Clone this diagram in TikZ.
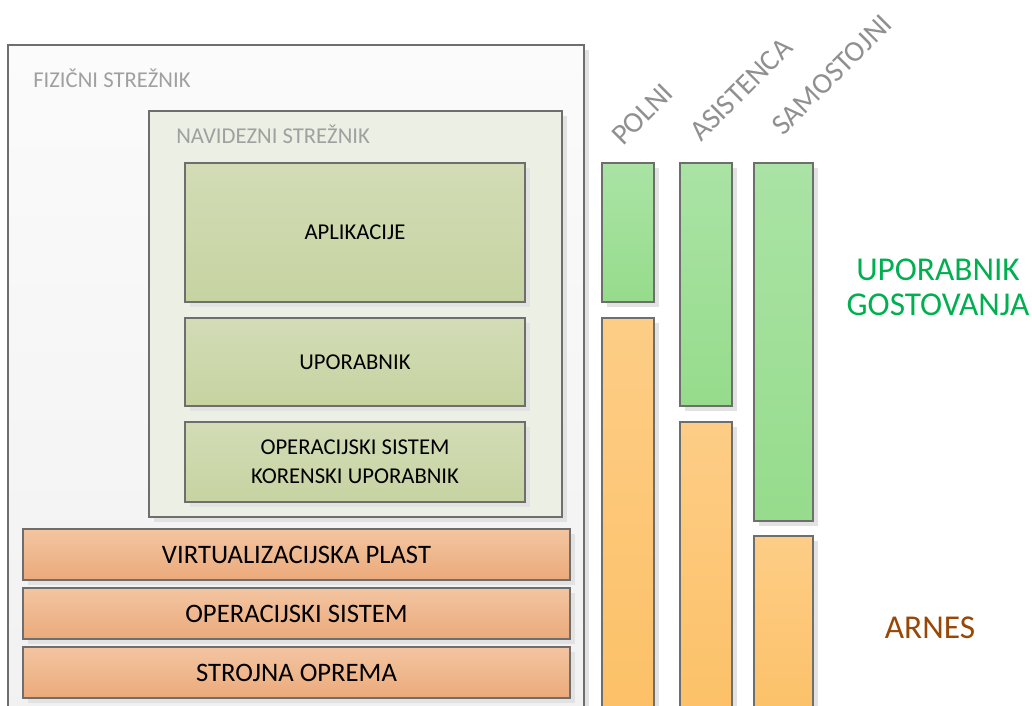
\documentclass[tikz,border=0pt]{standalone}
\usepackage{fontspec}
\setmainfont{Carlito}
\usetikzlibrary{fit,shadows}
\definecolor{edge}{HTML}{6E6E6E}
\definecolor{outtop}{HTML}{FBFBFB}
\definecolor{outbot}{HTML}{F1F1F1}
\definecolor{vmfill}{HTML}{ECEFE3}
\definecolor{gtop}{HTML}{D3DCB6}
\definecolor{gbot}{HTML}{C6D3A1}
\definecolor{otop}{HTML}{F3C5A1}
\definecolor{obot}{HTML}{EBAA7B}
\definecolor{btop}{HTML}{AAE3A5}
\definecolor{bbot}{HTML}{96DC8C}
\definecolor{ytop}{HTML}{FDCD86}
\definecolor{ybot}{HTML}{FCC066}
\definecolor{txtgreen}{HTML}{00B050}
\definecolor{txtbrown}{HTML}{974706}
\definecolor{lblgray}{HTML}{A0A0A0}
\definecolor{shadowgray}{HTML}{E2E2E2}
\tikzset{
  base/.style={draw=edge, line width=0.8pt, inner sep=0pt, outer sep=0pt,
    general shadow={fill=shadowgray, shadow xshift=3.8pt, shadow yshift=-3.8pt}},
  outerbox/.style={base, top color=outtop, bottom color=outbot},
  vmbox/.style={base, fill=vmfill},
  greenbox/.style={base, top color=gtop, bottom color=gbot},
  layer/.style={base, top color=otop, bottom color=obot},
  gbar/.style={base, top color=btop, bottom color=bbot},
  ybar/.style={base, top color=ytop, bottom color=ybot},
  innertext/.style={font=\fontsize{17}{21.75}\selectfont, align=center, inner sep=0pt},
  layertext/.style={font=\fontsize{20}{24}\selectfont, inner sep=0pt},
  boxlabel/.style={text=lblgray, font=\fontsize{17}{20}\selectfont, anchor=base west, inner sep=0pt},
  collabel/.style={text=lblgray!90!black, font=\fontsize{22}{26}\selectfont, anchor=base west, inner sep=0pt, rotate=45},
  sidelabel/.style={font=\fontsize{25}{26.25}\selectfont, align=center, inner sep=0pt}
}
\begin{document}
\begin{tikzpicture}[x=0.75pt,y=-0.75pt]
\useasboundingbox (0,0) rectangle (1032,706);
\clip (0,0) rectangle (1032,706);
% physical server
\node[outerbox, fit={(8,45) (584,730)}] (phys) {};
\node[boxlabel] (physlbl) at (33,88) {FIZIČNI STREŽNIK};
% virtual server
\node[vmbox, fit={(149,111) (562,517)}] (vm) {};
\node[boxlabel] (vmlbl) at (176,144) {NAVIDEZNI STREŽNIK};
\node[greenbox, fit={(185,163) (525,302)}] (app) {};
\node[innertext] (applbl) at (app.center) {APLIKACIJE};
\node[greenbox, fit={(185,318) (525,406)}] (user) {};
\node[innertext] (userlbl) at (user.center) {UPORABNIK};
\node[greenbox, fit={(185,422) (525,502)}] (os) {};
\node[innertext] (oslbl) at (os.center) {OPERACIJSKI SISTEM\\KORENSKI UPORABNIK};
% layers
\node[layer, fit={(23,529) (570,580)}] (virt) {};
\node[layertext] (virtlbl) at (virt.center) {VIRTUALIZACIJSKA PLAST};
\node[layer, fit={(23,588) (570,639)}] (hostos) {};
\node[layertext] (hostoslbl) at (hostos.center) {OPERACIJSKI SISTEM};
\node[layer, fit={(23,647) (570,698)}] (hw) {};
\node[layertext] (hwlbl) at (hw.center) {STROJNA OPREMA};
% bars
\node[gbar, fit={(602,163) (654,302)}] (polnig) {};
\node[ybar, fit={(602,318) (654,730)}] (polniy) {};
\node[gbar, fit={(680,163) (732,406)}] (asistg) {};
\node[ybar, fit={(680,422) (732,730)}] (asisty) {};
\node[gbar, fit={(754,163) (813,521)}] (samog) {};
\node[ybar, fit={(754,536) (813,730)}] (samoy) {};
% column labels
\node[collabel] (polnilbl) at (623,147) {POLNI};
\node[collabel] (asistlbl) at (701,143) {ASISTENCA};
\node[collabel] (samolbl) at (783,137) {SAMOSTOJNI};
% side labels
\node[sidelabel, text=txtgreen] (guest) at (938,287) {UPORABNIK\\GOSTOVANJA};
\node[sidelabel, text=txtbrown] (arnes) at (930,628) {ARNES};
\end{tikzpicture}
\end{document}
